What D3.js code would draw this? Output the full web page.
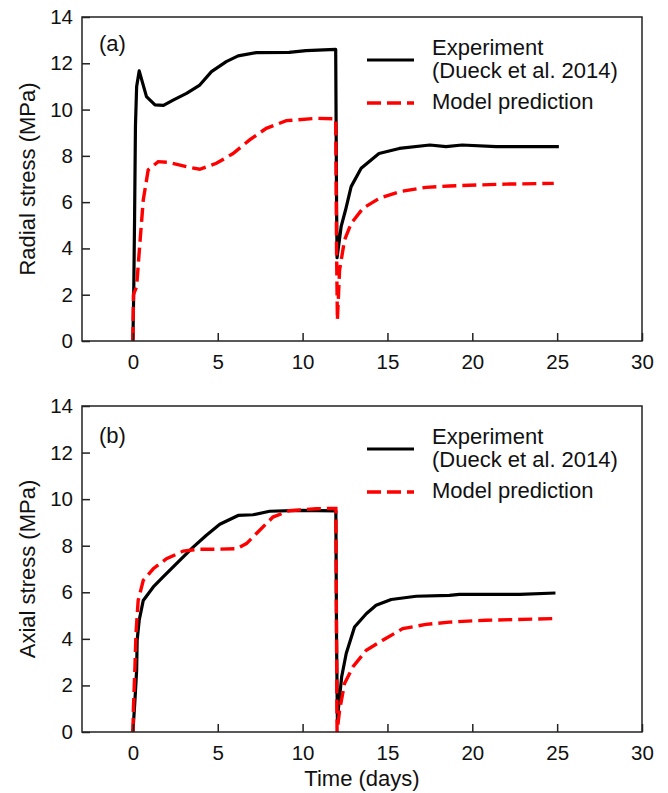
<!DOCTYPE html>
<html>
<head>
<meta charset="utf-8">
<script src="https://cdn.jsdelivr.net/npm/d3@7"></script>
<style>
  body { margin: 0; background: #fff; }
  svg { display: block; font-family: "Liberation Sans", Arial, sans-serif; }
</style>
</head>
<body>
<div id="chart"></div>
<script>
// Data: [time (days), stress (MPa)]
const radialExp = [
  [0, 0], [0.05, 2.2], [0.1, 5.4], [0.15, 9.3], [0.22, 11.0], [0.37, 11.67],
  [0.8, 10.56], [1.3, 10.2], [1.8, 10.18], [2.37, 10.41], [3.16, 10.7],
  [3.94, 11.06], [4.63, 11.64], [5.5, 12.07], [6.2, 12.32], [7.27, 12.46],
  [9.2, 12.47], [10.2, 12.55], [11.95, 12.6], [12.0, 6.0], [12.03, 3.6],
  [12.27, 4.94], [12.53, 5.66], [12.86, 6.67], [13.45, 7.46], [14.5, 8.1],
  [15.7, 8.32], [17.5, 8.47], [18.45, 8.4], [19.4, 8.47], [21.4, 8.4], [25.1, 8.4]
];
const radialModel = [
  [0, 0], [0.03, 2.0], [0.22, 2.35], [0.41, 4.22], [0.61, 6.09], [0.9, 7.39],
  [1.49, 7.75], [2.1, 7.72], [3.16, 7.53], [3.94, 7.42], [4.92, 7.68],
  [5.9, 8.1], [6.88, 8.69], [7.86, 9.19], [9.04, 9.52], [10.8, 9.62],
  [11.95, 9.6], [12.0, 4.0], [12.05, 0.9], [12.18, 3.07], [12.47, 4.36],
  [12.86, 5.08], [13.55, 5.73], [14.53, 6.17], [15.7, 6.45], [17.27, 6.64],
  [18.65, 6.7], [21.98, 6.78], [24.8, 6.81]
];
const axialExp = [
  [0, 0], [0.12, 1.37], [0.22, 2.66], [0.25, 3.94], [0.37, 4.8], [0.61, 5.65],
  [1.2, 6.23], [1.78, 6.66], [2.76, 7.37], [3.55, 7.94], [4.33, 8.45],
  [5.12, 8.92], [6.2, 9.3], [7.08, 9.33], [8.06, 9.48], [9.8, 9.52],
  [11.96, 9.5], [12.0, 4.0], [12.05, 0.5], [12.1, 0.93], [12.3, 2.36],
  [12.57, 3.37], [13.06, 4.51], [13.75, 5.08], [14.33, 5.44], [15.22, 5.69],
  [16.69, 5.83], [18.65, 5.87], [19.24, 5.91], [22.8, 5.91], [24.9, 5.97]
];
const axialModel = [
  [0, 0], [0.03, 1.0], [0.12, 2.79], [0.18, 4.22], [0.31, 5.65], [0.61, 6.51],
  [1.2, 7.01], [1.98, 7.44], [2.96, 7.77], [3.94, 7.85], [4.92, 7.85],
  [6.1, 7.87], [6.69, 8.09], [7.37, 8.59], [8.25, 9.23], [9.2, 9.5],
  [10.8, 9.59], [11.96, 9.6], [12.0, 4.0], [12.03, 0], [12.18, 0.93],
  [12.47, 2.08], [12.96, 2.79], [13.75, 3.51], [14.72, 3.94], [15.9, 4.44],
  [17.27, 4.62], [18.65, 4.72], [20.8, 4.8], [24.9, 4.87]
];

const xTicks = [0, 5, 10, 15, 20, 25, 30];
const yTicks = [0, 2, 4, 6, 8, 10, 12, 14];
const legendLabels = ["Experiment", "(Dueck et al. 2014)", "Model prediction"];

const panels = [
  { tag: "(a)", ylabel: "Radial stress (MPa)", exp: radialExp, model: radialModel, top: 17, bottom: 341, tagY: 51 },
  { tag: "(b)", ylabel: "Axial stress (MPa)", exp: axialExp, model: axialModel, top: 406, bottom: 732, tagY: 443 }
];

const width = 668, height = 793;
const left = 82, right = 642;
const labelSize = "22px", tickSize = "20.5px";

const svg = d3.select("#chart").append("svg")
  .attr("width", width)
  .attr("height", height);

const x = d3.scaleLinear().domain([-3, 30]).range([left, right]);

panels.forEach(p => {
  const y = d3.scaleLinear().domain([0, 14]).range([p.bottom, p.top]);
  const g = svg.append("g");

  // data lines (black first, red dashed on top)
  const line = d3.line().x(d => x(d[0])).y(d => y(d[1]));
  g.append("path")
    .attr("d", line(p.exp))
    .attr("fill", "none")
    .attr("stroke", "#000")
    .attr("stroke-width", 3.2)
    .attr("stroke-linejoin", "round");
  g.append("path")
    .attr("d", line(p.model))
    .attr("fill", "none")
    .attr("stroke", "#ff0000")
    .attr("stroke-width", 3.4)
    .attr("stroke-dasharray", "14,6");

  // frame
  g.append("rect")
    .attr("x", left).attr("y", p.top)
    .attr("width", right - left).attr("height", p.bottom - p.top)
    .attr("fill", "none")
    .attr("stroke", "#222")
    .attr("stroke-width", 1.5);

  // axes with inward ticks
  const xAxis = g.append("g")
    .attr("transform", `translate(0,${p.bottom})`)
    .call(d3.axisBottom(x).tickValues(xTicks).tickSizeInner(-8).tickSizeOuter(0).tickPadding(13));
  const yAxis = g.append("g")
    .attr("transform", `translate(${left},0)`)
    .call(d3.axisLeft(y).tickValues(yTicks).tickSizeInner(-8).tickSizeOuter(0).tickPadding(9));
  [xAxis, yAxis].forEach(a => {
    a.select(".domain").remove();
    a.selectAll(".tick line").attr("stroke", "#222").attr("stroke-width", 1.5);
    a.selectAll(".tick text")
      .attr("fill", "#111")
      .style("font-size", tickSize)
      .style("font-family", "'Liberation Sans', Arial, sans-serif");
  });

  // panel tag
  g.append("text")
    .attr("x", 99).attr("y", p.tagY)
    .style("font-size", labelSize)
    .attr("fill", "#111")
    .text(p.tag);

  // y label
  g.append("text")
    .attr("transform", `translate(35,${(p.top + p.bottom) / 2}) rotate(-90)`)
    .attr("text-anchor", "middle")
    .style("font-size", labelSize)
    .attr("fill", "#111")
    .text(p.ylabel);

  // legend
  const lg = g.append("g").attr("transform", `translate(0,${p.top})`);
  lg.append("line")
    .attr("x1", 367).attr("x2", 414).attr("y1", 43).attr("y2", 43)
    .attr("stroke", "#000").attr("stroke-width", 3.2);
  lg.append("line")
    .attr("x1", 367).attr("x2", 414).attr("y1", 86).attr("y2", 86)
    .attr("stroke", "#ff0000").attr("stroke-width", 3.4)
    .attr("stroke-dasharray", "14,6");
  [37.5, 61, 92].forEach((dy, i) => {
    lg.append("text")
      .attr("x", 432).attr("y", dy)
      .style("font-size", labelSize)
      .attr("fill", "#111")
      .text(legendLabels[i]);
  });
});

// x label
svg.append("text")
  .attr("x", (left + right) / 2).attr("y", 786)
  .attr("text-anchor", "middle")
  .style("font-size", labelSize)
  .attr("fill", "#111")
  .text("Time (days)");
</script>
</body>
</html>
